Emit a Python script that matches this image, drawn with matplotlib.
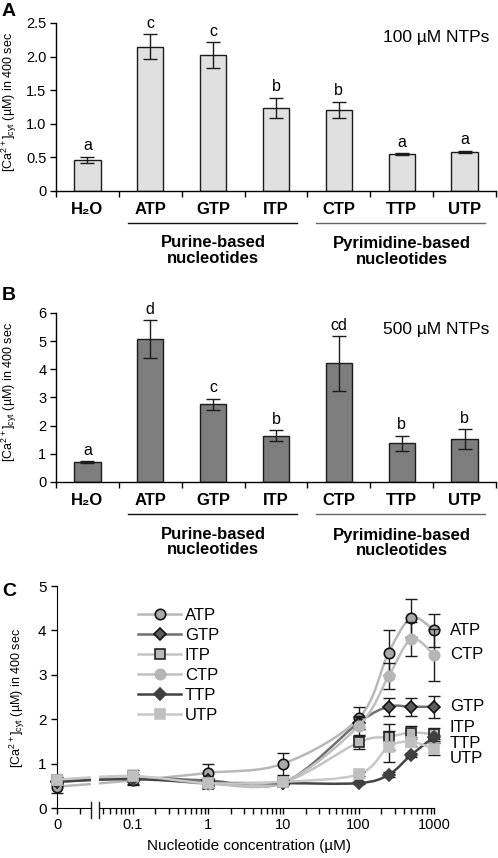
import numpy as np
import matplotlib
matplotlib.use('Agg')
import matplotlib.pyplot as plt
import matplotlib.transforms as mtransforms
from matplotlib.path import Path
from matplotlib.patches import PathPatch
from matplotlib.ticker import FixedLocator, NullFormatter, LogLocator

plt.rcParams['font.family'] = ['Liberation Sans', 'DejaVu Sans']
plt.rcParams['mathtext.default'] = 'regular'

# ---------------- data ----------------
categories = ['H₂O', 'ATP', 'GTP', 'ITP', 'CTP', 'TTP', 'UTP']
vals_100 = [0.46, 2.15, 2.02, 1.24, 1.21, 0.55, 0.58]
err_100 = [0.05, 0.18, 0.19, 0.15, 0.12, 0.01, 0.02]
letters_100 = ['a', 'c', 'c', 'b', 'b', 'a', 'a']

vals_500 = [0.71, 5.07, 2.76, 1.64, 4.21, 1.37, 1.53]
err_500 = [0.03, 0.67, 0.20, 0.20, 0.97, 0.27, 0.35]
letters_500 = ['a', 'd', 'c', 'b', 'cd', 'b', 'b']

purine_group = ['ATP', 'GTP', 'ITP']
pyrimidine_group = ['CTP', 'TTP', 'UTP']

conc = [0, 0.1, 1, 10, 100, 250, 500, 1000]
atp = [0.48, 0.62, 0.79, 1.00, 2.02, 3.50, 4.28, 4.00]
atp_err = [0.15, 0.10, 0.20, 0.25, 0.25, 0.50, 0.42, 0.38]
gtp = [0.58, 0.68, 0.62, 0.57, 1.92, 2.28, 2.28, 2.28]
gtp_err = [0.05, 0.05, 0.05, 0.05, 0.15, 0.20, 0.20, 0.25]
itp = [0.63, 0.70, 0.55, 0.58, 1.48, 1.60, 1.70, 1.66]
itp_err = [0.05, 0.15, 0.10, 0.05, 0.15, 0.30, 0.15, 0.15]
ctp = [0.62, 0.68, 0.55, 0.58, 1.85, 2.97, 3.80, 3.45]
ctp_err = [0.05, 0.05, 0.05, 0.05, 0.20, 0.30, 0.38, 0.58]
ttp = [0.60, 0.65, 0.57, 0.56, 0.56, 0.75, 1.20, 1.60]
ttp_err = [0.03, 0.03, 0.03, 0.03, 0.03, 0.05, 0.05, 0.05]
utp = [0.64, 0.72, 0.56, 0.59, 0.76, 1.38, 1.49, 1.33]
utp_err = [0.05, 0.05, 0.05, 0.05, 0.05, 0.35, 0.10, 0.14]

series_names = ['ATP', 'GTP', 'ITP', 'CTP', 'TTP', 'UTP']
series_vals = [atp, gtp, itp, ctp, ttp, utp]
series_errs = [atp_err, gtp_err, itp_err, ctp_err, ttp_err, utp_err]

# ---------------- styles ----------------
styles = {
    'ATP': dict(line='#b8b8b8', marker='o', mfc='#a9a9a9', mec='#111111', ms=7.5),
    'GTP': dict(line='#6f6f6f', marker='D', mfc='#5c5c5c', mec='#111111', ms=6.5),
    'ITP': dict(line='#c4c4c4', marker='s', mfc='#b8b8b8', mec='#222222', ms=7.5),
    'CTP': dict(line='#bfbfbf', marker='o', mfc='#b6b6b6', mec='#b6b6b6', ms=7.5),
    'TTP': dict(line='#444444', marker='D', mfc='#404040', mec='#404040', ms=6.5),
    'UTP': dict(line='#c8c8c8', marker='s', mfc='#c0c0c0', mec='#c0c0c0', ms=7.5),
}
label_offsets = {'ATP': 0, 'CTP': 0, 'GTP': 0, 'ITP': 5, 'TTP': -4.5, 'UTP': -7}
ZERO_POS = 0.01  # plotting position of the "0" concentration on the broken log axis

W, H = 498, 858
fig = plt.figure(figsize=(W / 100, H / 100), dpi=100)


def frac(x0, y_top, x1, y_bot):
    return [x0 / W, 1 - y_bot / H, (x1 - x0) / W, (y_bot - y_top) / H]


ylab = '[Ca$^{2+}$]$_{cyt}$ (µM) in 400 sec'


def bar_panel(ax, vals, errs, letters, color, ymax, yticks, ytl, note, note_y):
    x = np.arange(len(categories))
    ax.bar(x, vals, width=0.42, color=color, edgecolor='#1c1c1c', linewidth=1.0, zorder=2)
    ax.errorbar(x, vals, yerr=errs, fmt='none', ecolor='#1c1c1c', elinewidth=1.0,
                capsize=5, capthick=1.0, zorder=3)
    for xi, v, e, l in zip(x, vals, errs, letters):
        ax.annotate(l, (xi, v + e), xytext=(0, 2.5), textcoords='offset points',
                    ha='center', va='bottom', fontsize=11.5)
    ax.set_xlim(-0.5, 6.5)
    ax.set_ylim(0, ymax)
    ax.set_yticks(yticks)
    ax.set_yticklabels(ytl, fontsize=10.5)
    ax.tick_params(axis='y', length=4, width=1, direction='out', pad=3)
    ax.set_xticks(x)
    ax.set_xticklabels(categories, fontweight='bold', fontsize=12)
    ax.tick_params(axis='x', which='major', length=0, pad=8)
    ax.set_xticks(np.arange(-0.5, 7, 1), minor=True)
    ax.tick_params(axis='x', which='minor', length=4, width=1, direction='out')
    for s in ['top', 'right']:
        ax.spines[s].set_visible(False)
    for s in ['left', 'bottom']:
        ax.spines[s].set_linewidth(1.0)
    ax.set_ylabel(ylab, fontsize=9)
    ax.yaxis.set_label_coords((19 - 56) / 440, 0.53)
    ax.text(0.985, note_y, note, transform=ax.transAxes, ha='right', va='center', fontsize=12.5)
    tr = mtransforms.blended_transform_factory(ax.transData, ax.transAxes)
    for grp, lc in [(purine_group, '#111111'), (pyrimidine_group, '#666666')]:
        i0 = categories.index(grp[0])
        i1 = categories.index(grp[-1])
        ax.plot([i0 - 0.36, i1 + 0.33], [-0.19, -0.19], transform=tr, clip_on=False,
                color=lc, lw=1.0)
    ax.text((categories.index('ATP') + categories.index('ITP')) / 2, -0.355,
            'Purine-based\nnucleotides', transform=tr, ha='center', va='center',
            fontweight='bold', fontsize=12, linespacing=1.05)
    ax.text((categories.index('CTP') + categories.index('UTP')) / 2, -0.36,
            'Pyrimidine-based\nnucleotides', transform=tr, ha='center', va='center',
            fontweight='bold', fontsize=12, linespacing=1.05)


axA = fig.add_axes(frac(56, 23, 496, 191))
bar_panel(axA, vals_100, err_100, letters_100, '#e0e0e0', 2.5,
          [0, 0.5, 1.0, 1.5, 2.0, 2.5], ['0', '0.5', '1.0', '1.5', '2.0', '2.5'],
          '100 µM NTPs', 0.915)
axB = fig.add_axes(frac(56, 313, 496, 482))
bar_panel(axB, vals_500, err_500, letters_500, '#7d7d7d', 6,
          list(range(7)), [str(i) for i in range(7)], '500 µM NTPs', 0.9)

fig.text(2 / W, 1 - 11 / H, 'A', fontweight='bold', fontsize=14, va='center')
fig.text(2 / W, 1 - 295 / H, 'B', fontweight='bold', fontsize=14, va='center')
fig.text(2 / W, 1 - 592 / H, 'C', fontweight='bold', fontsize=14, va='center')

# ---------------- panel C (broken log axis) ----------------
axL = fig.add_axes(frac(57, 586, 90.7, 808))
axR = fig.add_axes(frac(99.3, 586, 434, 808))
for ax in (axL, axR):
    ax.set_xscale('log')
    ax.set_ylim(0, 5)
    ax.spines['top'].set_visible(False)
    ax.spines['right'].set_visible(False)
    ax.patch.set_alpha(0)
axL.set_xlim(0.01, 0.028)
axR.set_xlim(0.036, 1000)
axR.spines['left'].set_visible(False)
axR.tick_params(axis='y', left=False, labelleft=False)

axL.xaxis.set_major_locator(FixedLocator([0.01]))
axL.set_xticklabels(['0'], fontsize=10.5)
axL.xaxis.set_minor_locator(FixedLocator([0.02]))
axL.xaxis.set_minor_formatter(NullFormatter())
axL.set_yticks(range(6))
axL.set_yticklabels([str(i) for i in range(6)], fontsize=11)
axL.tick_params(axis='y', length=4, width=1, direction='out')
axL.tick_params(axis='x', which='both', length=4, width=1, direction='out', pad=3.5)
axL.set_ylabel(ylab, fontsize=9)
axL.yaxis.set_label_coords((27 - 57) / 33.7, 0.495)

axR.xaxis.set_major_locator(FixedLocator([0.1, 1, 10, 100, 1000]))
axR.set_xticklabels(['0.1', '1', '10', '100', '1000'], fontsize=10.5)
axR.xaxis.set_minor_locator(LogLocator(base=10, subs=np.arange(2, 10), numticks=20))
axR.xaxis.set_minor_formatter(NullFormatter())
axR.tick_params(axis='x', which='both', length=4, width=1, direction='out', pad=3.5)
axR.set_xlabel('Nucleotide concentration (µM)', fontsize=11)
axR.xaxis.set_label_coords((249 - 99.3) / 334.7, -0.14)

# break marks
for ax, xe in [(axL, 1.0), (axR, 0.0)]:
    ax.plot([xe, xe], [-10 / 222, 6 / 222], transform=ax.transAxes, color='#1c1c1c',
            lw=1.0, clip_on=False)

xplot = np.array([ZERO_POS if c == 0 else c for c in conc], dtype=float)


def smooth_path(xs, ys):
    u = np.log10(xs)
    v = np.asarray(ys, dtype=float)
    n = len(u)
    verts = [(xs[0], v[0])]
    codes = [Path.MOVETO]
    for i in range(n - 1):
        im = max(i - 1, 0)
        ip2 = min(i + 2, n - 1)
        c1u = u[i] + (u[i + 1] - u[im]) / 6
        c1v = v[i] + (v[i + 1] - v[im]) / 6
        c2u = u[i + 1] - (u[ip2] - u[i]) / 6
        c2v = v[i + 1] - (v[ip2] - v[i]) / 6
        verts += [(10 ** c1u, c1v), (10 ** c2u, c2v), (xs[i + 1], v[i + 1])]
        codes += [Path.CURVE4] * 3
    return Path(verts, codes)


handles = []
for k, (name, vals, errs) in enumerate(zip(series_names, series_vals, series_errs)):
    st = styles[name]
    z = 3 + k
    for ax in (axL, axR):
        pp = PathPatch(smooth_path(xplot, vals), facecolor='none', edgecolor=st['line'],
                       lw=1.8, zorder=z)
        ax.add_patch(pp)
    axL.errorbar(xplot[:1], vals[:1], yerr=errs[:1], fmt='none', ecolor='#1c1c1c',
                 elinewidth=1.0, capsize=4.5, capthick=1.0, clip_on=False, zorder=z)
    axL.plot(xplot[:1], vals[:1], ls='none', marker=st['marker'], ms=st['ms'],
             mfc=st['mfc'], mec=st['mec'], mew=1.2, clip_on=False, zorder=z + 0.5)
    axR.errorbar(xplot[1:], vals[1:], yerr=errs[1:], fmt='none', ecolor='#1c1c1c',
                 elinewidth=1.0, capsize=4.5, capthick=1.0, clip_on=False, zorder=z)
    axR.plot(xplot[1:], vals[1:], ls='none', marker=st['marker'], ms=st['ms'],
             mfc=st['mfc'], mec=st['mec'], mew=1.2, clip_on=False, zorder=z + 0.5)
    h, = axR.plot([], [], color=st['line'], lw=1.8, marker=st['marker'], ms=st['ms'],
                  mfc=st['mfc'], mec=st['mec'], mew=1.2, label=name)
    handles.append(h)
    axR.annotate(name, (xplot[-1], vals[-1]), xytext=(11.5, label_offsets[name]),
                 textcoords='offset points', ha='left', va='center', fontsize=12,
                 annotation_clip=False)

leg = axR.legend(handles=handles, loc='upper left', bbox_to_anchor=((138 - 99.3) / 334.7, 0.9),
                 frameon=False, fontsize=12, handlelength=2.6, handletextpad=0.2,
                 labelspacing=0.3, borderaxespad=0, borderpad=0)

fig.savefig('out.png', dpi=100)
